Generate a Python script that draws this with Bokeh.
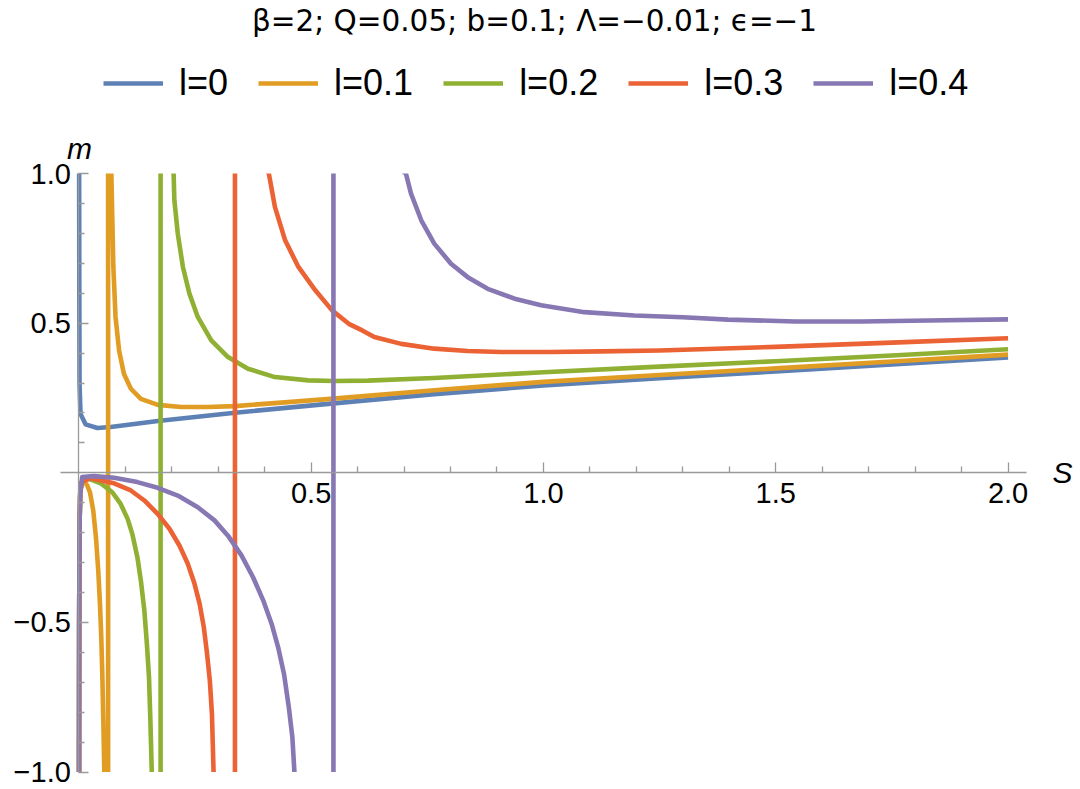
from bokeh.plotting import figure
from bokeh.models import Range1d, LinearAxis, FixedTicker, Label, Legend, LegendItem
from bokeh.embed import file_html
from bokeh.resources import INLINE

# ---------------- data ----------------
labels = ["l=0", "l=0.1", "l=0.2", "l=0.3", "l=0.4"]
colors = ["#5E81B5", "#E19C24", "#8FB032", "#EB6235", "#8778B3"]

# asymptote positions (vertical jumps) and off-chart ends of the jump
poles = [None, 0.063, 0.176, 0.336, 0.548]
jump_m = [-1.2, 1.2]

# l = 0 (single branch)
s_l0 = [0.0004, 0.0007, 0.001, 0.0015, 0.0036, 0.0144, 0.040, 0.0685, 0.170, 0.336,
        0.548, 0.765, 1.0, 1.25, 1.5, 1.75, 2.0]
m_l0 = [1.2, 0.95, 0.632, 0.298, 0.197, 0.162, 0.150, 0.153, 0.173, 0.201,
        0.232, 0.263, 0.292, 0.316, 0.339, 0.362, 0.386]

# l = 0.1
s_l1_low = [0.0003, 0.0007, 0.0014, 0.003, 0.007, 0.012, 0.018, 0.024, 0.031, 0.0368,
            0.0418, 0.0455, 0.0483, 0.0505, 0.0527, 0.0548, 0.058]
m_l1_low = [-1.2, -0.516, -0.182, -0.06, -0.028, -0.030, -0.042, -0.065, -0.126, -0.215,
            -0.327, -0.438, -0.550, -0.672, -0.828, -1.0, -1.2]
s_l1_up = [0.070, 0.072, 0.0743, 0.079, 0.0866, 0.097, 0.112, 0.1335, 0.170, 0.220,
           0.278, 0.336, 0.422, 0.548, 0.765, 1.0, 1.25, 1.5, 1.75, 2.0]
m_l1_up = [1.0, 0.855, 0.688, 0.521, 0.409, 0.331, 0.281, 0.247, 0.227, 0.220,
           0.220, 0.223, 0.233, 0.248, 0.276, 0.304, 0.327, 0.349, 0.372, 0.395]

# l = 0.2
s_l2_low = [0.0003, 0.0007, 0.0014, 0.003, 0.006, 0.011, 0.025, 0.047, 0.072, 0.090,
            0.105, 0.115, 0.126, 0.1335, 0.141, 0.1465, 0.151, 0.154, 0.157, 0.162]
m_l2_low = [-1.2, -0.516, -0.182, -0.07, -0.033, -0.020, -0.022, -0.035, -0.065, -0.104,
            -0.154, -0.204, -0.282, -0.360, -0.460, -0.572, -0.683, -0.828, -1.0, -1.2]
s_l2_up = [0.204, 0.2056, 0.213, 0.224, 0.238, 0.256, 0.285, 0.321, 0.364, 0.422,
           0.494, 0.55, 0.622, 0.765, 1.0, 1.25, 1.5, 1.75, 2.0]
m_l2_up = [1.0, 0.911, 0.799, 0.688, 0.599, 0.521, 0.443, 0.387, 0.348, 0.320,
           0.309, 0.307, 0.308, 0.317, 0.336, 0.355, 0.373, 0.392, 0.413]

# l = 0.3
s_l3_low = [0.0003, 0.0007, 0.0014, 0.003, 0.006, 0.025, 0.0758, 0.112, 0.141, 0.1696,
            0.195, 0.2165, 0.2345, 0.249, 0.26, 0.269, 0.276, 0.282, 0.2865, 0.290, 0.296]
m_l3_low = [-1.2, -0.516, -0.182, -0.07, -0.030, -0.018, -0.035, -0.059, -0.0925, -0.137,
            -0.187, -0.243, -0.304, -0.371, -0.438, -0.516, -0.605, -0.695, -0.806, -1.0, -1.2]
s_l3_up = [0.409, 0.422, 0.444, 0.4726, 0.509, 0.545, 0.581, 0.61, 0.636, 0.694,
           0.765, 0.837, 0.909, 1.016, 1.124, 1.25, 1.5, 1.75, 2.0]
m_l3_up = [1.0, 0.889, 0.777, 0.688, 0.610, 0.543, 0.498, 0.476, 0.454, 0.431,
           0.415, 0.407, 0.404, 0.404, 0.406, 0.409, 0.421, 0.435, 0.450]

# l = 0.4
s_l4_low = [0.0003, 0.0007, 0.0014, 0.003, 0.0072, 0.0325, 0.0758, 0.126, 0.1696, 0.213,
            0.256, 0.292, 0.321, 0.350, 0.375, 0.397, 0.415, 0.429, 0.4416, 0.452,
            0.4596, 0.464, 0.470]
m_l4_low = [-1.2, -0.516, -0.182, -0.07, -0.0145, -0.011, -0.0167, -0.031, -0.050, -0.076,
            -0.115, -0.159, -0.210, -0.276, -0.349, -0.427, -0.505, -0.583, -0.672, -0.784,
            -0.884, -1.0, -1.2]
s_l4_up = [0.704, 0.715, 0.737, 0.765, 0.801, 0.837, 0.880, 0.938, 0.995, 1.088,
           1.196, 1.30, 1.397, 1.541, 1.684, 1.828, 2.0]
m_l4_up = [1.0, 0.933, 0.844, 0.766, 0.699, 0.654, 0.615, 0.582, 0.560, 0.537,
           0.526, 0.520, 0.512, 0.506, 0.506, 0.509, 0.513]

x_major = [0.5, 1.0, 1.5, 2.0]
x_minor = [0.1, 0.2, 0.3, 0.4, 0.6, 0.7, 0.8, 0.9, 1.1, 1.2, 1.3, 1.4, 1.6, 1.7, 1.8, 1.9]
x_tick_labels = ["0.5", "1.0", "1.5", "2.0"]
y_major = [-1.0, -0.5, 0.5, 1.0]
y_minor = [-0.9, -0.8, -0.7, -0.6, -0.4, -0.3, -0.2, -0.1,
           0.1, 0.2, 0.3, 0.4, 0.6, 0.7, 0.8, 0.9]
y_tick_labels = ["\u22121.0", "\u22120.5", "0.5", "1.0"]

# plotted window of the reference (curves are cut at these m values)
s_window = (-0.04, 2.04)
m_window = (-1.0, 1.0)

title_text = "\u03b2=2; Q=0.05; b=0.1; \u039b=\u22120.01; \u03f5=\u22121"

# ---------------- assemble series ----------------
branches = [
    (None, None, s_l0, m_l0),
    (s_l1_low, m_l1_low, s_l1_up, m_l1_up),
    (s_l2_low, m_l2_low, s_l2_up, m_l2_up),
    (s_l3_low, m_l3_low, s_l3_up, m_l3_up),
    (s_l4_low, m_l4_low, s_l4_up, m_l4_up),
]

FONT = "Liberation Sans"
AXIS_COLOR = "#9a9a9a"
W, H = 1080, 789
X0, X1 = -0.16, 2.1538
Y0, Y1 = -1.0584, 1.5786

p = figure(width=W, height=H,
           x_range=Range1d(X0, X1), y_range=Range1d(Y0, Y1),
           output_backend="svg", toolbar_location=None,
           x_axis_location=None, y_axis_location=None,
           min_border_left=4, min_border_right=1,
           min_border_top=0, min_border_bottom=0)
p.grid.visible = False
p.outline_line_color = None
p.background_fill_color = "white"
p.border_fill_color = "white"

renderers = []
for (sl, ml, su, mu), pole, col in zip(branches, poles, colors):
    if sl is None:
        xs, ys = list(su), list(mu)
    else:
        xs = list(sl) + [pole, pole] + list(su)
        ys = list(ml) + list(jump_m) + list(mu)
    r = p.line(xs, ys, line_color=col, line_width=4.6, line_join="round", line_cap="butt")
    renderers.append(r)

# white masks: the curves are cut at the plotted m-window, like the reference
p.quad(left=[X0, X0], right=[X1, X1], bottom=[m_window[1], Y0 - 1],
       top=[Y1 + 1, m_window[0]], fill_color="white", line_color=None)

def style_axis(ax):
    ax.axis_line_color = AXIS_COLOR
    ax.axis_line_width = 1.3
    ax.major_tick_line_color = AXIS_COLOR
    ax.minor_tick_line_color = AXIS_COLOR
    ax.major_tick_line_width = 1.3
    ax.minor_tick_line_width = 1.3
    ax.major_tick_in = 10
    ax.major_tick_out = 0
    ax.minor_tick_in = 6
    ax.minor_tick_out = 0
    ax.major_label_text_font = FONT
    ax.major_label_text_font_size = "29px"
    ax.major_label_text_color = "black"

xaxis = LinearAxis(fixed_location=0, bounds=s_window,
                   ticker=FixedTicker(ticks=x_major, minor_ticks=x_minor))
style_axis(xaxis)
xaxis.major_label_standoff = 10
xaxis.major_label_overrides = {v: t for v, t in zip(x_major, x_tick_labels)}
p.add_layout(xaxis, "below")

yaxis = LinearAxis(fixed_location=0, bounds=m_window,
                   ticker=FixedTicker(ticks=y_major, minor_ticks=y_minor))
style_axis(yaxis)
yaxis.major_label_standoff = 8
yaxis.major_label_overrides = {v: t for v, t in zip(y_major, y_tick_labels)}
p.add_layout(yaxis, "left")

# axis names (screen units, relative to the frame's bottom-left)
p.add_layout(Label(x=1048, y=317, x_units="screen", y_units="screen", text="S",
                   text_font=FONT, text_font_style="italic", text_font_size="30px",
                   text_color="black", text_align="left", text_baseline="middle"))
p.add_layout(Label(x=75, y=641, x_units="screen", y_units="screen", text="m",
                   text_font=FONT, text_font_style="italic", text_font_size="30px",
                   text_color="black", text_align="center", text_baseline="middle"))

# title
p.add_layout(Label(x=530, y=769, x_units="screen", y_units="screen", text=title_text,
                   text_font="DejaVu Sans", text_font_size="29.5px", text_color="black",
                   text_align="center", text_baseline="middle"))

# legend
legend = Legend(items=[LegendItem(label=lab, renderers=[r]) for lab, r in zip(labels, renderers)],
                orientation="horizontal", location=(99, 685),
                glyph_width=60, glyph_height=20, label_standoff=16, spacing=30,
                padding=0, margin=0, border_line_color=None, background_fill_alpha=0,
                label_text_font=FONT, label_text_font_size="36px", label_text_color="black")
p.add_layout(legend, "center")

open("out.html", "w").write(file_html(p, INLINE))
